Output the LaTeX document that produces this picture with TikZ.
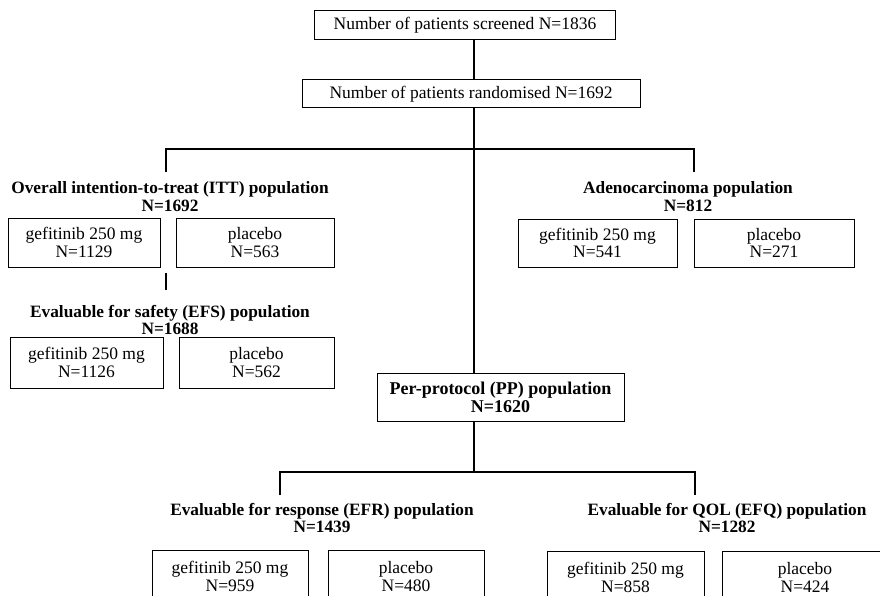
\documentclass[tikz,border=0pt]{standalone}
\usepackage{fontspec}
\setmainfont{Liberation Serif}
\usetikzlibrary{positioning}
\newcommand{\armfont}{\fontsize{17.5}{17.5}\selectfont}
\newcommand{\popfont}{\fontsize{17.3}{17.5}\selectfont\bfseries}
\tikzset{
  flowbox/.style={draw,line width=1pt,align=center,font=\armfont,inner sep=0pt},
  arm/.style={flowbox,minimum height=49pt},
  popn/.style={align=center,font=\popfont,inner sep=0pt},
  link/.style={line width=1.2pt}
}
\begin{document}
\begin{tikzpicture}[x=1pt,y=-1pt]
  \useasboundingbox (0,0) rectangle (880,596);
  \clip (0,0) rectangle (880,596);
  % screening and randomisation
  \node[flowbox,minimum width=301pt,minimum height=29pt] (screened) at (465,25.5) {Number of patients screened N=1836};
  \node[flowbox,minimum width=338pt,minimum height=28pt] (randomised) at (471,94) {Number of patients randomised N=1692};
  % populations
  \node[popn] (itt) at (170,196.5) {Overall intention-to-treat (ITT) population\\N=1692};
  \node[arm,minimum width=152pt] (ittgef) at (84,242.5) {gefitinib 250 mg\\N=1129};
  \node[arm,minimum width=158pt,right=15pt of ittgef] (ittplc) {placebo\\N=563};
  \node[popn] (efs) at (170,320) {Evaluable for safety (EFS) population\\N=1688};
  \node[arm,minimum width=153pt,minimum height=51pt] (efsgef) at (86.5,362.5) {gefitinib 250 mg\\N=1126};
  \node[arm,minimum width=155pt,minimum height=51pt,right=15pt of efsgef] (efsplc) {placebo\\N=562};
  \node[popn] (adeno) at (688,196.5) {Adenocarcinoma population\\N=812};
  \node[arm,minimum width=159pt,minimum height=48pt] (adenogef) at (597.5,243) {gefitinib 250 mg\\N=541};
  \node[arm,minimum width=160pt,minimum height=48pt,right=16pt of adenogef] (adenoplc) {placebo\\N=271};
  \node[flowbox,font=\fontsize{18}{18}\selectfont\bfseries,minimum width=247pt,minimum height=48pt] (pp) at (500.5,397) {Per-protocol (PP) population\\N=1620};
  \node[popn] (efr) at (322,518) {Evaluable for response (EFR) population\\N=1439};
  \node[arm,minimum width=156pt,minimum height=53pt] (efrgef) at (230,576.5) {gefitinib 250 mg\\N=959};
  \node[arm,minimum width=156pt,minimum height=53pt,right=19pt of efrgef] (efrplc) {placebo\\N=480};
  \node[popn] (efq) at (727,518) {Evaluable for QOL (EFQ) population\\N=1282};
  \node[arm,minimum width=157pt,minimum height=53pt] (efqgef) at (625.5,577.5) {gefitinib 250 mg\\N=858};
  \node[arm,minimum width=166pt,minimum height=53pt,right=17pt of efqgef] (efqplc) {placebo\\N=424};
  % connectors
  \coordinate (topbar) at (474,149);
  \coordinate (ittdrop) at (166,172);
  \coordinate (adenodrop) at (694,172);
  \coordinate (lowbar) at (474,472);
  \coordinate (efrdrop) at (280,495);
  \coordinate (efqdrop) at (695,495);
  \coordinate (safetop) at (166,273);
  \coordinate (safebot) at (166,290);
  \draw[link] (screened.south -| topbar) -- (randomised.north -| topbar);
  \draw[link] (randomised.south -| topbar) -- (pp.north -| topbar);
  \draw[link] (ittdrop) |- (topbar) -| (adenodrop);
  \draw[link] (safetop) -- (safebot);
  \draw[link] (pp.south -| lowbar) -- (lowbar);
  \draw[link] (efrdrop) |- (lowbar) -| (efqdrop);
\end{tikzpicture}
\end{document}
